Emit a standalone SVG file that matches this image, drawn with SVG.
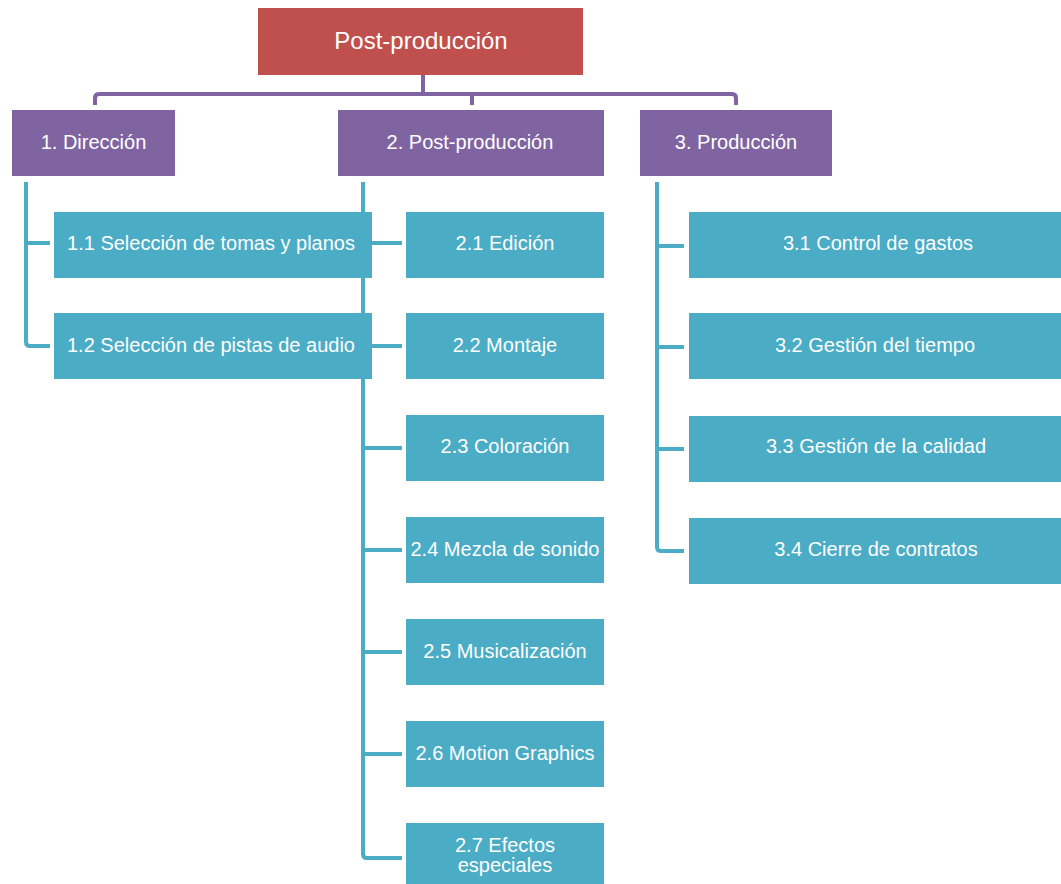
<svg xmlns="http://www.w3.org/2000/svg" width="1061" height="884" viewBox="0 0 1061 884">
  <style>
    .root { fill: #C0504D; }
    .l1 { fill: #8064A2; }
    .l2 { fill: #4BACC6; }
    .lbl { font-family: "Liberation Sans", Arial, sans-serif; font-size: 20px; fill: #FFFFFF; text-anchor: middle; }
    .big { font-size: 24px; }
    .purple { fill: none; stroke: #8064A2; stroke-width: 4; }
    .teal { fill: none; stroke: #4BACC6; stroke-width: 4; }
  </style>
  <rect width="1061" height="884" fill="#FFFFFF"/>

  <!-- connectors -->
  <g id="connectors">
    <path class="purple" d="M423,75 V94"/>
    <path class="purple" d="M95,105 V98 Q95,94 99,94 H732 Q736,94 736,98 V105"/>
    <path class="purple" d="M472,94 V105"/>

    <path class="teal" d="M26,182 V342 Q26,346 30,346 H50"/>
    <path class="teal" d="M26,243 H50"/>

    <path class="teal" d="M363,182 V854 Q363,858 367,858 H402"/>
    <path class="teal" d="M363,243 H402 M363,346 H402 M363,448 H402 M363,550 H402 M363,652 H402 M363,754 H402"/>

    <path class="teal" d="M657,182 V547 Q657,551 661,551 H684"/>
    <path class="teal" d="M657,246 H684 M657,347 H684 M657,449 H684"/>
  </g>

  <!-- top -->
  <g id="n-root">
    <rect class="root" x="258" y="8" width="325" height="67"/>
    <text class="lbl big" x="421" y="49">Post-producción</text>
  </g>

  <!-- first level -->
  <g id="n1">
    <rect class="l1" x="12" y="110" width="163" height="66"/>
    <text class="lbl" x="93.5" y="149">1. Dirección</text>
  </g>
  <g id="n2">
    <rect class="l1" x="338" y="110" width="266" height="66"/>
    <text class="lbl" x="470" y="149">2. Post-producción</text>
  </g>
  <g id="n3">
    <rect class="l1" x="640" y="110" width="192" height="66"/>
    <text class="lbl" x="736" y="149">3. Producción</text>
  </g>

  <!-- 1. Dirección -->
  <g id="n1-1">
    <rect class="l2" x="54" y="212" width="318" height="66"/>
    <text class="lbl" x="211" y="250">1.1 Selección de tomas y planos</text>
  </g>
  <g id="n1-2">
    <rect class="l2" x="54" y="313" width="318" height="66"/>
    <text class="lbl" x="211" y="352">1.2 Selección de pistas de audio</text>
  </g>

  <!-- 2. Post-producción -->
  <g id="n2-1">
    <rect class="l2" x="406" y="212" width="198" height="66"/>
    <text class="lbl" x="505" y="250">2.1 Edición</text>
  </g>
  <g id="n2-2">
    <rect class="l2" x="406" y="313" width="198" height="66"/>
    <text class="lbl" x="505" y="352">2.2 Montaje</text>
  </g>
  <g id="n2-3">
    <rect class="l2" x="406" y="415" width="198" height="66"/>
    <text class="lbl" x="505" y="453">2.3 Coloración</text>
  </g>
  <g id="n2-4">
    <rect class="l2" x="406" y="517" width="198" height="66"/>
    <text class="lbl" x="505" y="556">2.4 Mezcla de sonido</text>
  </g>
  <g id="n2-5">
    <rect class="l2" x="406" y="619" width="198" height="66"/>
    <text class="lbl" x="505" y="658">2.5 Musicalización</text>
  </g>
  <g id="n2-6">
    <rect class="l2" x="406" y="721" width="198" height="66"/>
    <text class="lbl" x="505" y="760">2.6 Motion Graphics</text>
  </g>
  <g id="n2-7">
    <rect class="l2" x="406" y="823" width="198" height="66"/>
    <text class="lbl" x="505" y="852">2.7 Efectos</text>
    <text class="lbl" x="505" y="872">especiales</text>
  </g>

  <!-- 3. Producción -->
  <g id="n3-1">
    <rect class="l2" x="689" y="212" width="373" height="66"/>
    <text class="lbl" x="878" y="250">3.1 Control de gastos</text>
  </g>
  <g id="n3-2">
    <rect class="l2" x="689" y="313" width="373" height="66"/>
    <text class="lbl" x="875" y="352">3.2 Gestión del tiempo</text>
  </g>
  <g id="n3-3">
    <rect class="l2" x="689" y="416" width="373" height="66"/>
    <text class="lbl" x="876" y="453">3.3 Gestión de la calidad</text>
  </g>
  <g id="n3-4">
    <rect class="l2" x="689" y="518" width="373" height="66"/>
    <text class="lbl" x="876" y="556">3.4 Cierre de contratos</text>
  </g>
</svg>
